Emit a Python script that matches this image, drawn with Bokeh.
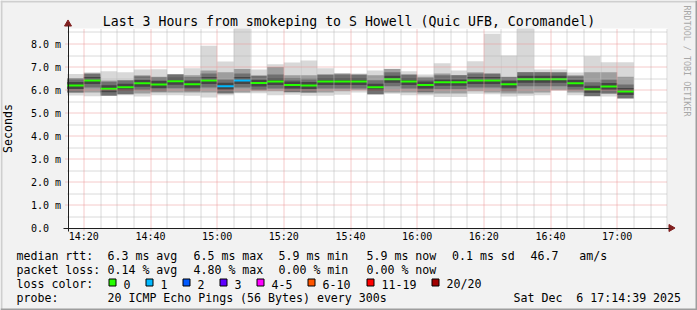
import math
from bokeh.plotting import figure
from bokeh.models import Range1d, FixedTicker, ColumnDataSource
from bokeh.core.properties import value
from bokeh.embed import file_html
from bokeh.resources import INLINE

# ---------------- data ----------------
# 5-minute steps, minutes after 14:00
STEP_START_MIN = list(range(15, 185, 5))
STEP_MIN = 5
MEDIAN_MS = [6.20, 6.42, 6.06, 6.13, 6.30, 6.24, 6.39, 6.26, 6.42, 6.17,
             6.42, 6.31, 6.38, 6.22, 6.20, 6.38, 6.38, 6.38, 6.12, 6.47,
             6.38, 6.22, 6.34, 6.34, 6.42, 6.42, 6.25, 6.47, 6.47, 6.47,
             6.30, 6.04, 6.16, 5.94]
MAX_MS = [6.70, 6.78, 6.82, 6.78, 6.90, 6.91, 6.66, 6.95, 7.92, 7.24,
          8.90, 6.90, 7.12, 7.20, 7.29, 6.95, 6.72, 6.72, 6.85, 6.93,
          6.82, 6.68, 7.17, 6.85, 7.25, 8.44, 7.50, 8.90, 6.89, 6.89,
          6.76, 7.47, 7.21, 7.21]
HI_MS = [6.50, 6.65, 6.42, 6.35, 6.65, 6.58, 6.60, 6.65, 6.85, 6.78,
         6.92, 6.65, 7.00, 6.65, 6.65, 6.65, 6.72, 6.65, 6.65, 6.92,
         6.65, 6.58, 6.72, 6.65, 6.78, 6.65, 6.58, 6.78, 6.78, 6.72,
         6.65, 6.78, 6.78, 6.58]
LO_MS = [5.90, 5.90, 5.85, 5.85, 5.85, 5.90, 5.90, 5.90, 5.90, 5.85,
         5.90, 5.95, 5.95, 5.90, 5.90, 5.90, 5.95, 6.00, 5.85, 5.90,
         5.90, 5.85, 5.85, 5.85, 5.95, 5.90, 5.85, 5.85, 5.90, 6.00,
         5.90, 5.90, 5.85, 5.90]
MIN_MS = [5.77, 5.74, 5.78, 5.78, 5.72, 5.78, 5.78, 5.76, 5.68, 5.78,
          5.86, 5.86, 5.78, 5.80, 5.76, 5.76, 5.80, 5.90, 5.80, 5.84,
          5.78, 5.78, 5.70, 5.70, 5.84, 5.82, 5.72, 5.76, 5.78, 5.98,
          5.78, 5.78, 5.72, 5.78]
LOSS_PINGS = [0, 0, 0, 0, 0, 0, 0, 0, 0, 1,
              1, 0, 0, 0, 0, 0, 0, 0, 0, 0,
              0, 0, 0, 0, 0, 0, 0, 0, 0, 0,
              0, 0, 0, 0]

X_TICKS = [20, 40, 60, 80, 100, 120, 140, 160, 180]
X_TICK_LABELS = ["14:20", "14:40", "15:00", "15:20", "15:40",
                 "16:00", "16:20", "16:40", "17:00"]
Y_TICKS = [0, 1, 2, 3, 4, 5, 6, 7, 8]
Y_TICK_LABELS = ["0.0\u00a0\u00a0", "1.0 m", "2.0 m", "3.0 m", "4.0 m",
                 "5.0 m", "6.0 m", "7.0 m", "8.0 m"]

LOSS_LEGEND = ["0", "1", "2", "3", "4-5", "6-10", "11-19", "20/20"]
LOSS_COLORS = ["#26ff00", "#00b8ff", "#0059ff", "#5e00ff",
               "#ff00ff", "#ff5500", "#ff0000", "#a10000"]
LOSS_UPPER = [0, 1, 2, 3, 5, 10, 19, 20]

TITLE = "Last 3 Hours from smokeping to S Howell (Quic UFB, Coromandel)"
RTT_ITEMS = ["median rtt:", "6.3 ms avg", "6.5 ms max", "5.9 ms min",
             "5.9 ms now", "0.1 ms sd", "46.7   am/s"]
LOSS_ITEMS = ["packet loss:", "0.14 % avg", "4.80 % max", "0.00 % min",
              "0.00 % now"]
PROBE_ITEMS = ["probe:", "20 ICMP Echo Pings (56 Bytes) every 300s",
               "Sat Dec  6 17:14:39 2025"]

# ---------------- geometry / style ----------------
W, H = 697, 310
FL, FR, FT, FB = 67, 667, 28, 228        # plot area edges in canvas px
X0, X1 = 15.1, 195.1
Y0, Y1 = 0.0, 8.673
PXM = (FR - FL) / (X1 - X0)
PXY = (FB - FT) / (Y1 - Y0)
XR0, XR1 = X0 - FL / PXM, X1 + (W - FR) / PXM
YR0, YR1 = Y0 - (H - FB) / PXY, Y1 + FT / PXY
MONO = "DejaVu Sans Mono"
TEXT_DY = -3.0   # baseline correction for text glyphs

def cx(xc):   # canvas px -> x data
    return XR0 + xc / PXM

def cy(yc):   # canvas px -> y data
    return YR1 - yc / PXY

def xpx(x):
    return (x - XR0) * PXM

def ypx(y):
    return (YR1 - y) * PXY

def loss_color(n):
    for up, c in zip(LOSS_UPPER, LOSS_COLORS):
        if n <= up:
            return c
    return LOSS_COLORS[-1]

p = figure(width=W, height=H, x_range=Range1d(XR0, XR1), y_range=Range1d(YR0, YR1),
           output_backend="svg", toolbar_location=None, min_border=0,
           background_fill_color="#f2f2f2", border_fill_color="#f2f2f2",
           outline_line_color=None)
p.xgrid.visible = False
p.ygrid.visible = False

# canvas shading + white plot area
p.quad(left=[cx(0), cx(0), cx(W - 2), cx(0)], right=[cx(W), cx(2), cx(W), cx(W)],
       top=[cy(0), cy(0), cy(0), cy(H - 2)], bottom=[cy(2), cy(H), cy(H), cy(H)],
       fill_color=["#cfcfcf", "#cfcfcf", "#9e9e9e", "#9e9e9e"], line_color=None)
p.quad(left=[X0], right=[X1], bottom=[Y0], top=[Y1], fill_color="#ffffff", line_color=None)

src = ColumnDataSource(dict(
    left=STEP_START_MIN,
    right=[s + STEP_MIN for s in STEP_START_MIN],
    mid=[s + STEP_MIN / 2 for s in STEP_START_MIN],
    med=MEDIAN_MS, top=[min(v, Y1) for v in MAX_MS], bottom=MIN_MS,
    hi=HI_MS, lo=LO_MS,
    color=[loss_color(n) for n in LOSS_PINGS]))

# smoke
p.quad(left="left", right="right", bottom="bottom", top="top", source=src,
       fill_color="#d8d8d8", line_color=None)
p.quad(left="left", right="right", bottom="lo", top="hi", source=src,
       fill_color="#9e9e9e", line_color=None)
p.rect(x="mid", y="med", width=STEP_MIN, height=14, height_units="screen",
       source=src, fill_color="#707070", line_color=None)
p.rect(x="mid", y="med", width=STEP_MIN, height=7, height_units="screen",
       source=src, fill_color="#454545", line_color=None)
p.segment(x0="left", y0="med", x1="right", y1="med", source=src,
          line_color="color", line_width=2)

# grid lines (crisp, dotted), drawn over the smoke as rrdtool does
xminor = [m for m in range(20, 196, 5) if m not in X_TICKS]
yminor = [v + 0.5 for v in Y_TICKS]
def crisp_x(x):
    return cx(math.floor(xpx(x)) + 0.5)
def crisp_y(y):
    return cy(math.floor(ypx(y)) + 0.5)
MINOR_C = "#b5b5b5"
MAJOR_C = "#eb9595"
p.segment(x0=[crisp_x(m) for m in xminor], x1=[crisp_x(m) for m in xminor],
          y0=Y0, y1=Y1, line_color=MINOR_C, line_width=1, line_dash="1 1")
p.segment(x0=X0, x1=X1, y0=[crisp_y(v) for v in yminor if v < Y1],
          y1=[crisp_y(v) for v in yminor if v < Y1],
          line_color=MINOR_C, line_width=1, line_dash="1 1")
p.segment(x0=[crisp_x(m) for m in X_TICKS], x1=[crisp_x(m) for m in X_TICKS],
          y0=cy(FB + 2), y1=Y1, line_color=MAJOR_C, line_width=1, line_dash="1 1")
p.segment(x0=cx(FL - 2), x1=X1, y0=[crisp_y(v) for v in Y_TICKS[1:]],
          y1=[crisp_y(v) for v in Y_TICKS[1:]],
          line_color=MAJOR_C, line_width=1, line_dash="1 1")

# axes (Bokeh axes, fixed at the plot-area edges)
p.xaxis.fixed_location = crisp_y(0)
p.yaxis.fixed_location = crisp_x(X0)
p.xaxis.bounds = (cx(FL - 4), cx(FR + 2))
p.yaxis.bounds = (cy(FB + 3), cy(FT - 3))
p.xaxis.ticker = FixedTicker(ticks=X_TICKS, minor_ticks=[])
p.yaxis.ticker = FixedTicker(ticks=Y_TICKS, minor_ticks=[])
p.xaxis.major_label_overrides = dict(zip(X_TICKS, X_TICK_LABELS))
p.yaxis.major_label_overrides = dict(zip(Y_TICKS, Y_TICK_LABELS))
for ax in (p.xaxis[0], p.yaxis[0]):
    ax.axis_line_color = "#1f1f1f"
    ax.major_tick_line_color = None
    ax.major_tick_out = 2
    ax.major_tick_in = 0
    ax.minor_tick_line_color = None
    ax.major_label_text_font = MONO
    ax.major_label_text_font_size = "10px"
    ax.major_label_text_color = "#000000"
p.xaxis.major_label_standoff = 1
p.yaxis.major_label_standoff = 5
p.yaxis.axis_label = "Seconds"
p.yaxis.axis_label_text_font = MONO
p.yaxis.axis_label_text_font_size = "11.6px"
p.yaxis.axis_label_text_font_style = "normal"
p.yaxis.axis_label_text_color = "#000000"
p.yaxis.axis_label_standoff = 13

# arrow heads
p.scatter(x=[cx(FR + 3.5)], y=[crisp_y(0)], marker="triangle", size=7, angle=-math.pi / 2,
          fill_color="#801f1f", line_color="#801f1f")
p.scatter(x=[crisp_x(X0)], y=[cy(FT - 4.5)], marker="triangle", size=7,
          fill_color="#801f1f", line_color="#801f1f")

# texts
def texts(items, xs, yc, size="11.6px", align="left", baseline="alphabetic",
          color="#000000", angle=0.0):
    p.text(x=[cx(v) for v in xs], y=[cy(yc + TEXT_DY)] * len(xs),
           text=[t.replace(" ", "\u00a0") for t in items],
           text_font=value(MONO), text_font_size=value(size),
           text_align=align, text_baseline=baseline, text_color=color, angle=angle)

texts([TITLE], [348.5], 23.7, size="13.2px", align="center")
p.text(x=[cx(686.5)], y=[cy(5)], text=["RRDTOOL\u00a0/\u00a0TOBI\u00a0OETIKER"],
       text_font=value(MONO), text_font_size=value("8.4px"), text_align="left",
       text_baseline="middle", text_color="#a8a8a8", angle=-math.pi / 2)

texts(RTT_ITEMS, [16, 107, 193, 278, 366, 451.5, 530], 258.4)
texts(LOSS_ITEMS, [16, 107, 193, 278, 366], 272.5)
texts(["loss color:"], [16], 286.5)
sq_x = [108.5, 145.5, 182.5, 219.5, 256.5, 307.5, 366.5, 431.5]
p.quad(left=[cx(v) for v in sq_x], right=[cx(v + 7) for v in sq_x],
       top=cy(278.5), bottom=cy(285.5), fill_color=LOSS_COLORS,
       line_color="#000000", line_width=1)
texts(LOSS_LEGEND, [v + 14.5 for v in sq_x], 286.5)
texts(PROBE_ITEMS, [16, 107, 513], 300.5)

open("out.html", "w").write(file_html(p, INLINE))
